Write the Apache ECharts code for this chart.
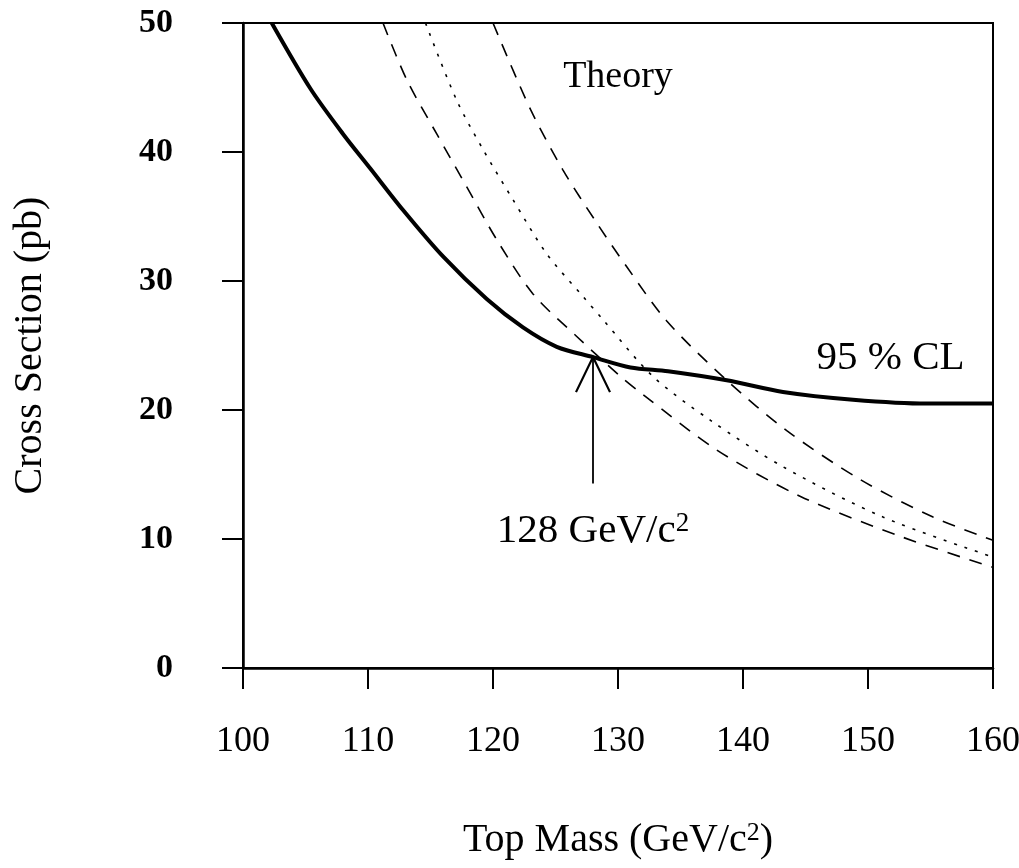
<!DOCTYPE html>
<html>
<head>
<meta charset="utf-8">
<script src="https://cdn.jsdelivr.net/npm/echarts@6.0.0/dist/echarts.min.js"></script>
<style>
  html, body { margin: 0; padding: 0; background: #fff; }
  #chart { width: 1019px; height: 868px; }
</style>
</head>
<body>
<div id="chart"></div>
<script>
// Top-quark mass (GeV/c^2) vs. cross section (pb)

// Experimental 95 % CL upper limit
const cl95Limit = [
  [102.3, 50], [105.4, 44.9], [108.0, 41.4], [110.2, 38.7], [112.8, 35.5],
  [116.0, 31.9], [119.5, 28.6], [122.4, 26.4], [125.1, 24.9], [128.0, 24.1],
  [131.0, 23.3], [134.0, 23.0], [138.7, 22.3], [143.2, 21.4], [148.8, 20.8],
  [154.7, 20.5], [160.0, 20.5]
];

// Theoretical prediction: upper band edge, central value, lower band edge
const theoryUpper = [
  [120.0, 50], [123.0, 43.3], [125.6, 38.6], [128.3, 34.5], [130.7, 31.1],
  [133.9, 26.9], [138.7, 22.3], [143.5, 18.4], [149.4, 14.6], [155.2, 11.7],
  [160.0, 9.9]
];
const theoryCentral = [
  [114.6, 50], [117.1, 44.0], [119.2, 40.2], [121.6, 36.3], [124.3, 32.1],
  [127.2, 28.8], [128.8, 27.0], [132.8, 22.6], [137.4, 19.2], [143.2, 15.6],
  [151.2, 11.7], [160.0, 8.6]
];
const theoryLower = [
  [111.2, 50], [113.1, 45.6], [115.5, 41.4], [117.9, 37.3], [120.3, 33.2],
  [123.2, 29.0], [126.7, 25.7], [130.2, 22.6], [132.0, 21.2], [137.9, 16.9],
  [144.6, 13.3], [152.6, 10.2], [160.0, 7.8]
];

// Mass limit where the theory curve crosses the 95 % CL curve
const limitMass = 128;
const limitXsec = 24.1;
const arrowBase = 14.3;

// Axis ranges and steps
const massRange = [100, 160];
const massStep = 10;
const xsecRange = [0, 50];
const xsecStep = 10;

const SERIF = '"Liberation Serif", "Times New Roman", serif';
const INK = '#000';

const chart = echarts.init(document.getElementById('chart'), null, { renderer: 'canvas' });

const curve = (name, data, width, type) => ({
  name,
  type: 'line',
  data,
  symbol: 'none',
  smooth: 0.3,
  clip: true,
  lineStyle: { color: INK, width, type },
  z: 3
});

const captions = [[130.0, 45.8, 'Theory', 38], [151.8, 24.0, '95 % CL', 41]];

const option = {
  animation: false,
  backgroundColor: '#fff',
  grid: {
    left: 243, right: 26, top: 23, bottom: 200,
    show: true, borderColor: INK, borderWidth: 2,
    containLabel: false, outerBoundsMode: 'none'
  },
  xAxis: {
    type: 'value',
    min: massRange[0], max: massRange[1], interval: massStep,
    name: '{t|Top Mass (GeV/c}{s|2}{t|)}',
    nameLocation: 'middle',
    nameGap: 152,
    nameTextStyle: {
      fontFamily: SERIF, fontSize: 40, color: INK,
      rich: {
        t: { fontFamily: SERIF, fontSize: 40, color: INK, lineHeight: 44, verticalAlign: 'top' },
        s: { fontFamily: SERIF, fontSize: 26, color: INK, lineHeight: 44, verticalAlign: 'top' }
      }
    },
    axisLine: { show: true, onZero: false, lineStyle: { color: INK, width: 2.5 } },
    axisTick: { show: true, inside: false, length: 21, lineStyle: { color: INK, width: 2 } },
    axisLabel: { margin: 56, fontFamily: SERIF, fontSize: 36, color: INK },
    splitLine: { show: false }
  },
  yAxis: {
    type: 'value',
    min: xsecRange[0], max: xsecRange[1], interval: xsecStep,
    name: 'Cross Section (pb)',
    nameLocation: 'middle',
    nameGap: 193,
    nameRotate: 90,
    nameTextStyle: { fontFamily: SERIF, fontSize: 40, color: INK },
    axisLine: { show: true, onZero: false, lineStyle: { color: INK, width: 2.5 } },
    axisTick: { show: true, inside: false, length: 21, lineStyle: { color: INK, width: 2 } },
    axisLabel: { margin: 70, fontFamily: SERIF, fontSize: 34, fontWeight: 'bold', color: INK },
    splitLine: { show: false }
  },
  series: [
    curve('95 % CL', cl95Limit, 4, 'solid'),
    curve('Theory upper', theoryUpper, 1.6, [13, 10]),
    curve('Theory', theoryCentral, 1.6, [3, 8]),
    curve('Theory lower', theoryLower, 1.6, [13, 10]),
    {
      // Arrow marking the mass limit, with its value written underneath
      name: 'Mass limit',
      type: 'custom',
      coordinateSystem: 'cartesian2d',
      data: [[limitMass, arrowBase, limitXsec]],
      z: 5,
      renderItem(params, api) {
        const tip = api.coord([api.value(0), api.value(2)]);
        const base = api.coord([api.value(0), api.value(1)]);
        return {
          type: 'group',
          children: [
            { type: 'line', shape: { x1: base[0], y1: base[1], x2: tip[0], y2: tip[1] },
              style: { stroke: INK, lineWidth: 1.8 } },
            { type: 'polyline',
              shape: { points: [[tip[0] - 17, tip[1] + 35], [tip[0], tip[1]], [tip[0] + 17, tip[1] + 35]] },
              style: { stroke: INK, lineWidth: 2.2, fill: null } },
            { type: 'text', x: base[0], y: base[1] + 27,
              style: {
                text: `{m|${api.value(0)} GeV/c}{s|2}`,
                align: 'center', verticalAlign: 'top',
                rich: {
                  m: { fontFamily: SERIF, fontSize: 41, fill: INK, lineHeight: 44, verticalAlign: 'top' },
                  s: { fontFamily: SERIF, fontSize: 27, fill: INK, lineHeight: 44, verticalAlign: 'top' }
                }
              } }
          ]
        };
      }
    },
    {
      // Curve captions
      name: 'Captions',
      type: 'custom',
      coordinateSystem: 'cartesian2d',
      data: captions,
      z: 5,
      renderItem(params, api) {
        const p = api.coord([api.value(0), api.value(1)]);
        const item = captions[params.dataIndex];
        return {
          type: 'text', x: p[0], y: p[1],
          style: {
            text: item[2], fontFamily: SERIF, fontSize: item[3], fill: INK,
            align: 'center', verticalAlign: 'middle'
          }
        };
      }
    }
  ]
};

chart.setOption(option);
</script>
</body>
</html>
